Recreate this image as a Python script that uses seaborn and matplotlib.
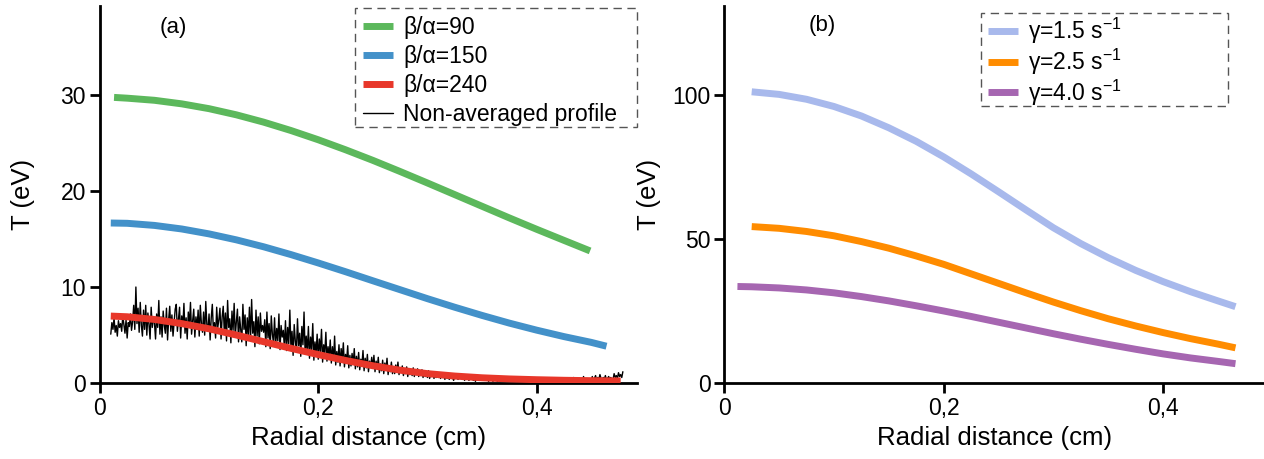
import matplotlib
matplotlib.use('Agg')
import matplotlib.pyplot as plt
from matplotlib.patches import Rectangle
import seaborn as sns
import numpy as np

# Panel (a): smoothed temperature profiles for different beta/alpha
r_green = [0.013, 0.025, 0.05, 0.075, 0.1, 0.125, 0.15, 0.175, 0.2, 0.225, 0.25, 0.275, 0.3, 0.325, 0.35, 0.375, 0.4, 0.425, 0.449]
T_green = [29.7, 29.62, 29.40, 29.03, 28.53, 27.89, 27.13, 26.26, 25.30, 24.26, 23.16, 22.00, 20.81, 19.60, 18.39, 17.18, 16.00, 14.85, 13.75]

r_blue = [0.010, 0.025, 0.05, 0.075, 0.1, 0.125, 0.15, 0.175, 0.2, 0.225, 0.25, 0.275, 0.3, 0.325, 0.35, 0.375, 0.4, 0.425, 0.45, 0.464]
T_blue = [16.65, 16.62, 16.40, 16.03, 15.52, 14.90, 14.18, 13.37, 12.50, 11.59, 10.65, 9.72, 8.79, 7.90, 7.05, 6.25, 5.52, 4.85, 4.25, 3.85]

r_red = [0.010, 0.025, 0.05, 0.075, 0.1, 0.125, 0.15, 0.175, 0.2, 0.225, 0.25, 0.275, 0.3, 0.325, 0.35, 0.375, 0.4, 0.425, 0.45, 0.477]
T_red = [6.98, 6.91, 6.63, 6.20, 5.66, 5.01, 4.32, 3.63, 2.98, 2.37, 1.82, 1.36, 1.0, 0.75, 0.57, 0.45, 0.37, 0.31, 0.27, 0.24]

# non-averaged profile, sampled every 0.001 cm starting at 0.010 cm
noise_r0 = 0.010
noise_dr = 0.001
noise_T = [
    5.1, 6.3, 5.6, 6.8, 5.3, 6.0, 4.9, 6.5, 5.8, 6.2, 5.4, 7.0, 6.1, 5.2, 6.6, 4.7, 6.3, 5.9, 7.2, 5.5,
    6.4, 8.1, 5.6, 10.0, 6.2, 7.8, 5.3, 8.4, 6.0, 4.9, 7.6, 5.6, 8.1, 5.0, 7.3, 6.1, 4.6, 7.9, 5.8, 6.7,
    6.3, 4.6, 7.2, 5.8, 8.6, 5.1, 6.9, 4.8, 7.5, 6.0, 5.2, 7.8, 4.5, 6.6, 8.0, 5.4, 7.1, 4.9, 6.3, 7.7,
    8.2, 5.4, 6.6, 7.9, 4.7, 7.0, 5.9, 8.3, 5.2, 6.8, 4.6, 7.4, 6.0, 8.4, 5.1, 6.5, 7.7, 4.8, 6.9, 5.6,
    7.6, 4.9, 8.1, 6.2, 5.3, 7.4, 5.0, 8.5, 6.1, 5.5, 7.2, 4.5, 6.8, 8.2, 5.4, 6.3, 4.7, 7.9, 5.8, 6.6,
    7.8, 4.6, 6.9, 8.0, 5.2, 7.3, 4.4, 8.6, 5.8, 6.7, 4.2, 7.5, 5.5, 8.3, 4.8, 6.4, 7.7, 4.3, 6.9, 5.6,
    4.3, 8.2, 5.6, 7.1, 3.9, 6.8, 5.0, 7.9, 4.5, 8.7, 5.2, 6.4, 3.8, 7.6, 4.9, 6.9, 4.1, 7.3, 5.4, 6.0,
    5.3, 6.6, 3.8, 7.4, 4.7, 6.2, 3.6, 7.0, 5.1, 4.2, 6.8, 3.9, 5.7, 4.4, 7.2, 3.5, 6.0, 4.8, 5.5, 3.7,
    6.5, 3.4, 5.8, 4.1, 7.6, 3.7, 5.4, 2.9, 6.1, 4.4, 3.3, 6.7, 3.9, 5.2, 2.8, 5.9, 4.0, 7.4, 3.1, 4.9,
    3.2, 5.9, 2.6, 4.8, 3.5, 6.2, 2.4, 4.3, 3.0, 5.1, 2.5, 4.6, 3.3, 5.6, 2.2, 4.0, 3.1, 5.3, 2.3, 3.8,
    2.7, 4.5, 2.1, 3.8, 2.4, 4.9, 1.9, 3.3, 2.2, 4.0, 1.8, 3.6, 2.5, 4.2, 1.7, 3.0, 2.3, 3.9, 1.6, 2.9,
    1.8, 3.1, 2.0, 3.6, 1.5, 2.8, 1.7, 3.2, 1.4, 2.5, 1.9, 3.4, 1.3, 2.6, 1.6, 3.0, 1.2, 2.3, 1.7, 2.7,
    1.6, 2.9, 1.2, 2.3, 1.5, 2.7, 1.1, 2.0, 1.3, 2.4, 1.0, 2.1, 1.4, 2.6, 0.9, 1.8, 1.2, 2.2, 1.0, 1.7,
    1.0, 1.9, 1.2, 2.2, 0.9, 1.6, 1.1, 1.8, 0.8, 1.4, 1.0, 1.7, 0.7, 1.5, 0.9, 1.3, 0.8, 1.6, 0.7, 1.2,
    0.9, 1.5, 0.7, 1.2, 0.8, 1.4, 0.6, 1.1, 0.7, 1.0, 0.6, 1.3, 0.5, 0.9, 0.7, 1.1, 0.5, 0.8, 0.6, 1.0,
    0.6, 0.9, 0.5, 1.1, 0.6, 0.8, 0.4, 0.9, 0.5, 0.7, 0.4, 0.8, 0.5, 0.6, 0.3, 0.7, 0.5, 0.8, 0.4, 0.6,
    0.5, 0.7, 0.4, 0.8, 0.3, 0.6, 0.4, 0.7, 0.3, 0.5, 0.4, 0.6, 0.3, 0.5, 0.2, 0.6, 0.4, 0.5, 0.3, 0.4,
    0.4, 0.6, 0.3, 0.5, 0.3, 0.6, 0.2, 0.4, 0.3, 0.5, 0.2, 0.4, 0.3, 0.5, 0.2, 0.3, 0.4, 0.2, 0.3, 0.5,
    0.3, 0.4, 0.2, 0.5, 0.3, 0.4, 0.2, 0.3, 0.4, 0.2, 0.3, 0.2, 0.4, 0.3, 0.2, 0.3, 0.5, 0.2, 0.3, 0.2,
    0.3, 0.2, 0.4, 0.2, 0.3, 0.2, 0.4, 0.3, 0.2, 0.3, 0.2, 0.3, 0.4, 0.2, 0.3, 0.2, 0.3, 0.4, 0.2, 0.3,
    0.2, 0.4, 0.2, 0.3, 0.5, 0.2, 0.3, 0.2, 0.4, 0.3, 0.2, 0.3, 0.2, 0.4, 0.2, 0.3, 0.5, 0.2, 0.3, 0.2,
    0.2, 0.5, 0.3, 0.2, 0.6, 0.3, 0.2, 0.4, 0.3, 0.5, 0.2, 0.4, 0.3, 0.7, 0.2, 0.3, 0.5, 0.2, 0.4, 0.3,
    0.3, 0.7, 0.2, 0.5, 0.8, 0.3, 0.6, 0.4, 0.9, 0.5, 0.3, 0.6, 0.4, 0.8, 0.3, 0.5, 0.7, 0.4, 0.6, 0.3,
    0.4, 1.0, 0.6, 0.8, 0.5, 1.1, 0.7, 0.9, 0.6, 1.2,
]
noise_r = noise_r0 + noise_dr * np.arange(len(noise_T))

# Panel (b): profiles for different gamma
r_b = [0.025, 0.05, 0.075, 0.1, 0.125, 0.15, 0.175, 0.2, 0.225, 0.25, 0.275, 0.3, 0.325, 0.35, 0.375, 0.4, 0.425, 0.45, 0.466]
T_g15 = [101.2, 100.3, 98.6, 96.1, 92.8, 88.7, 84.0, 78.6, 72.7, 66.5, 60.2, 54.0, 48.5, 43.6, 39.2, 35.3, 31.8, 28.6, 26.6]
T_g25 = [54.4, 53.8, 52.7, 51.2, 49.2, 46.9, 44.2, 41.3, 38.0, 34.7, 31.4, 28.2, 25.2, 22.4, 19.9, 17.6, 15.5, 13.6, 12.3]
r_purple = [0.012, 0.025, 0.05, 0.075, 0.1, 0.125, 0.15, 0.175, 0.2, 0.225, 0.25, 0.275, 0.3, 0.325, 0.35, 0.375, 0.4, 0.425, 0.45, 0.466]
T_g40 = [33.6, 33.5, 33.1, 32.4, 31.4, 30.1, 28.6, 26.9, 25.1, 23.2, 21.2, 19.2, 17.2, 15.3, 13.5, 11.8, 10.2, 8.8, 7.6, 6.8]

xticks = [0, 0.2, 0.4]
xticklabels = ['0', '0,2', '0,4']
yticks_a = [0, 10, 20, 30]
yticks_b = [0, 50, 100]

sns.set_style('ticks')
plt.rcParams['font.family'] = ['Liberation Sans', 'DejaVu Sans']
plt.rcParams['mathtext.default'] = 'regular'
plt.rcParams['axes.linewidth'] = 2.0
for k in ['text.color', 'axes.labelcolor', 'xtick.color', 'ytick.color', 'axes.edgecolor']:
    plt.rcParams[k] = 'black'

fig = plt.figure(figsize=(12.64, 4.59), dpi=100)
ax1 = fig.add_axes([0.079, 0.165, 0.425, 0.822])
ax2 = fig.add_axes([0.573, 0.165, 0.427, 0.822])

lw = 5
kw = dict(lw=lw, solid_capstyle='butt', solid_joinstyle='round')
sns.lineplot(x=r_green, y=T_green, ax=ax1, color='#5cb85c', label='β/α=90', zorder=3, **kw)
sns.lineplot(x=r_blue, y=T_blue, ax=ax1, color='#4391c9', label='β/α=150', zorder=3, **kw)
sns.lineplot(x=noise_r, y=noise_T, ax=ax1, color='black', lw=1.0, label='Non-averaged profile', zorder=2)
sns.lineplot(x=r_red, y=T_red, ax=ax1, color='#e8372a', label='β/α=240', zorder=4, **kw)

sns.lineplot(x=r_b, y=T_g15, ax=ax2, color='#a8b9ec', label='γ=1.5 s$^{-1}$', **kw)
sns.lineplot(x=r_b, y=T_g25, ax=ax2, color='#ff8c00', label='γ=2.5 s$^{-1}$', **kw)
sns.lineplot(x=r_purple, y=T_g40, ax=ax2, color='#a666b1', label='γ=4.0 s$^{-1}$', **kw)

for ax, yt, ymax, lx in [(ax1, yticks_a, 39.2, -0.121), (ax2, yticks_b, 131, -0.117)]:
    ax.set_xlim(0, 0.492)
    ax.set_ylim(0, ymax)
    ax.set_xticks(xticks)
    ax.set_xticklabels(xticklabels)
    ax.set_yticks(yt)
    ax.tick_params(direction='out', length=7, width=2.0, labelsize=16.5, pad=3)
    ax.set_xlabel('Radial distance (cm)', fontsize=18.5, labelpad=4)
    ax.set_ylabel('T (eV)', fontsize=18.5)
    ax.yaxis.set_label_coords(lx, 0.5)
    sns.despine(ax=ax)

# legend order as in the reference
h, l = ax1.get_legend_handles_labels()
order = [l.index('β/α=90'), l.index('β/α=150'), l.index('β/α=240'), l.index('Non-averaged profile')]
W, H = 1264.0, 459.0
leg_kw = dict(loc='upper left', fontsize=16.5, handlelength=1.3,
              borderpad=0, borderaxespad=0, handletextpad=0.45, frameon=False,
              bbox_transform=fig.transFigure)
ax1.legend([h[i] for i in order], [l[i] for i in order],
           bbox_to_anchor=(363 / W, 1 - 16 / H), labelspacing=0.26, **leg_kw)
ax2.legend(bbox_to_anchor=(988 / W, 1 - 16 / H), labelspacing=0.02, **leg_kw)

# dashed legend boxes
for x0, y0, x1, y1 in [(355, 8, 637, 127), (981, 13, 1228, 106)]:
    fig.add_artist(Rectangle((x0 / W, 1 - y1 / H), (x1 - x0) / W, (y1 - y0) / H,
                             transform=fig.transFigure, fill=False, edgecolor='#555555',
                             lw=1.0, linestyle=(0, (6, 4))))

ax1.text(0.136, 0.944, '(a)', transform=ax1.transAxes, fontsize=16, ha='center', va='center')
ax2.text(0.181, 0.947, '(b)', transform=ax2.transAxes, fontsize=16, ha='center', va='center')

fig.savefig('out.png', dpi=100)
